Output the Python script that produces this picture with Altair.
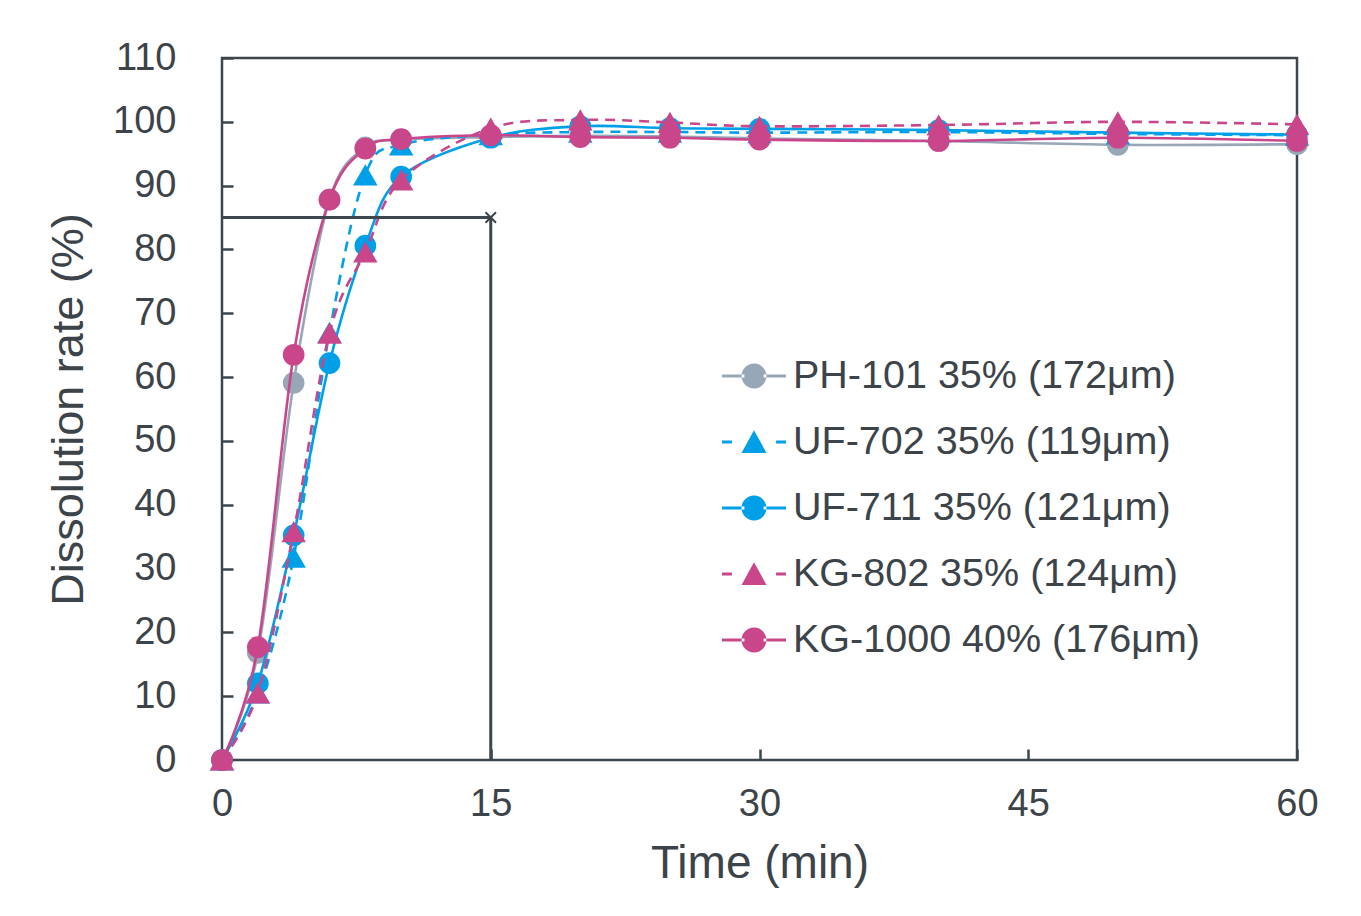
import altair as alt
import pandas as pd

# ---------------- data ----------------
time_min = [0, 2, 4, 6, 8, 10, 15, 20, 25, 30, 40, 50, 60]
ph101 = [0, 16.8, 59.1, 87.8, 96.0, 97.2, 97.6, 97.8, 97.7, 97.4, 97.0, 96.4, 96.5]
uf702 = [0, 10.5, 31.8, 67.0, 91.7, 96.4, 98.0, 98.4, 98.4, 98.3, 98.4, 98.1, 97.9]
uf711 = [0, 12.0, 35.2, 62.2, 80.6, 91.4, 97.5, 99.3, 99.0, 98.9, 98.7, 98.3, 98.0]
kg802 = [0, 10.5, 35.8, 66.9, 79.6, 90.9, 99.0, 100.3, 99.9, 99.3, 99.5, 100.0, 99.6]
kg1000 = [0, 17.7, 63.5, 87.8, 95.8, 97.3, 97.9, 97.6, 97.5, 97.2, 97.0, 97.5, 97.0]

series_names = [
    "PH-101 35% (172μm)",
    "UF-702 35% (119μm)",
    "UF-711 35% (121μm)",
    "KG-802 35% (124μm)",
    "KG-1000 40% (176μm)",
]
series_values = [ph101, uf702, uf711, kg802, kg1000]

x_ticks = [0, 15, 30, 45, 60]
y_ticks = [0, 10, 20, 30, 40, 50, 60, 70, 80, 90, 100, 110]

ref_time = 15
ref_rate = 85

# ---------------- styles ----------------
series_colors = ["#97a7b8", "#00a0e9", "#00a0e9", "#c9468b", "#c9468b"]
series_markers = ["circle", "triangle-up", "circle", "triangle-up", "circle"]
series_dashed = [False, True, False, True, False]

circ = "M-0.39,0A0.39,0.39 0 1,0 0.39,0A0.39,0.39 0 1,0 -0.39,0Z"
solid_line = "M-1,-0.045H-0.3V0.045H-1Z M0.3,-0.045H1V0.045H0.3Z"
dash_line = "M-1,-0.045H-0.69V0.045H-1Z M0.69,-0.045H1V0.045H0.69Z"
tri = "M0,-0.37L0.39,0.34L-0.39,0.34Z"
legend_paths = [
    solid_line + " " + circ,
    dash_line + " " + tri,
    solid_line + " " + circ,
    dash_line + " " + tri,
    solid_line + " " + circ,
]

TEXT = "#3c4349"
AXIS = "#3d464d"
FONT = "Liberation Sans"
W, H = 1075, 702

rows = []
for name, vals in zip(series_names, series_values):
    for t, v in zip(time_min, vals):
        rows.append({"series": name, "time": t, "value": v})
df = pd.DataFrame(rows)

xs = alt.Scale(domain=[0, 60], nice=False, zero=False)
ys = alt.Scale(domain=[0, 110], nice=False, zero=False)

layers = []

# series lines + markers (series order = drawing order)
for name, col, mk, dashed in zip(series_names, series_colors, series_markers, series_dashed):
    base = alt.Chart(df).transform_filter(alt.datum.series == name)
    line_kwargs = dict(color=col, strokeWidth=2.6, interpolate="cardinal")
    if dashed:
        line_kwargs["strokeDash"] = [10, 7]
    line = base.mark_line(**line_kwargs).encode(
        x=alt.X("time:Q", scale=xs, axis=None),
        y=alt.Y("value:Q", scale=ys, axis=None),
    )
    size = 470 if mk == "circle" else 600
    pts = base.mark_point(shape=mk, filled=True, color=col, size=size, opacity=1).encode(
        x=alt.X("time:Q", scale=xs, axis=None),
        y=alt.Y("value:Q", scale=ys, axis=None),
    )
    layers += [line, pts]

# legend layer (no marks drawn, only the legend)
leg = alt.Legend(
    title=None,
    orient="none",
    legendX=500,
    legendY=286,
    symbolSize=4096,
    symbolStrokeWidth=0,
    labelFontSize=39.5,
    labelFont=FONT,
    labelColor=TEXT,
    labelOffset=7,
    labelLimit=600,
    rowPadding=14,
    padding=0,
)
legend_layer = alt.Chart(df).transform_filter("false").mark_point(
    filled=True, opacity=1
).encode(
    x=alt.X("time:Q", scale=xs, axis=None),
    y=alt.Y("value:Q", scale=ys, axis=None),
    color=alt.Color("series:N", scale=alt.Scale(domain=series_names, range=series_colors), legend=leg),
    shape=alt.Shape("series:N", scale=alt.Scale(domain=series_names, range=legend_paths), legend=leg),
)
layers.append(legend_layer)

# reference lines at 85 % / 15 min, carrying the labelled axes
ref_df = pd.DataFrame(
    [
        {"x": 0, "x2": ref_time, "y": ref_rate, "y2": ref_rate},
        {"x": ref_time, "x2": ref_time, "y": 0, "y2": ref_rate},
    ]
)
ref_rules = alt.Chart(ref_df).mark_rule(color=AXIS, strokeWidth=3).encode(
    x=alt.X(
        "x:Q",
        scale=xs,
        axis=alt.Axis(
            orient="bottom",
            values=x_ticks,
            ticks=False,
            domain=False,
            grid=False,
            labelFlush=False,
            labelFontSize=38,
            labelFont=FONT,
            labelColor=TEXT,
            labelPadding=25,
            title="Time (min)",
            titleFontSize=46,
            titleFont=FONT,
            titleColor=TEXT,
            titleFontWeight="normal",
            titlePadding=18,
        ),
    ),
    x2="x2:Q",
    y=alt.Y(
        "y:Q",
        scale=ys,
        axis=alt.Axis(
            orient="left",
            values=y_ticks,
            ticks=False,
            domain=False,
            grid=False,
            labelFlush=False,
            labelFontSize=38,
            labelFont=FONT,
            labelColor=TEXT,
            labelPadding=46,
            title="Dissolution rate (%)",
            titleFontSize=45,
            titleFont=FONT,
            titleColor=TEXT,
            titleFontWeight="normal",
            titlePadding=21,
        ),
    ),
    y2="y2:Q",
)
layers.append(ref_rules)

# small "x" marker at the reference point, carrying the inward tick axes
ref_pt = pd.DataFrame([{"time": ref_time, "value": ref_rate}])
cross = alt.Chart(ref_pt).mark_point(
    shape="M-1,-1L1,1M-1,1L1,-1", size=110, strokeWidth=2, color=AXIS, filled=False, opacity=1
).encode(
    x=alt.X(
        "time:Q",
        scale=xs,
        axis=alt.Axis(
            orient="top", offset=-H, values=x_ticks, labels=False, domain=False, grid=False,
            ticks=True, tickSize=11, tickWidth=2.5, tickColor=AXIS, title=None,
        ),
    ),
    y=alt.Y(
        "value:Q",
        scale=ys,
        axis=alt.Axis(
            orient="right", offset=-W, values=y_ticks, labels=False, domain=False, grid=False,
            ticks=True, tickSize=11, tickWidth=2.5, tickColor=AXIS, title=None,
        ),
    ),
)
layers.append(cross)

chart = (
    alt.layer(*layers)
    .resolve_axis(x="independent", y="independent")
    .properties(
        width=W,
        height=H,
        padding={"left": 214, "top": 50, "right": 40, "bottom": 130},
        autosize=alt.AutoSizeParams(type="none"),
        background="white",
    )
    .configure_view(stroke=AXIS, strokeWidth=2.5)
)

chart.save("out.html", embed_options={"renderer": "svg", "actions": False})
